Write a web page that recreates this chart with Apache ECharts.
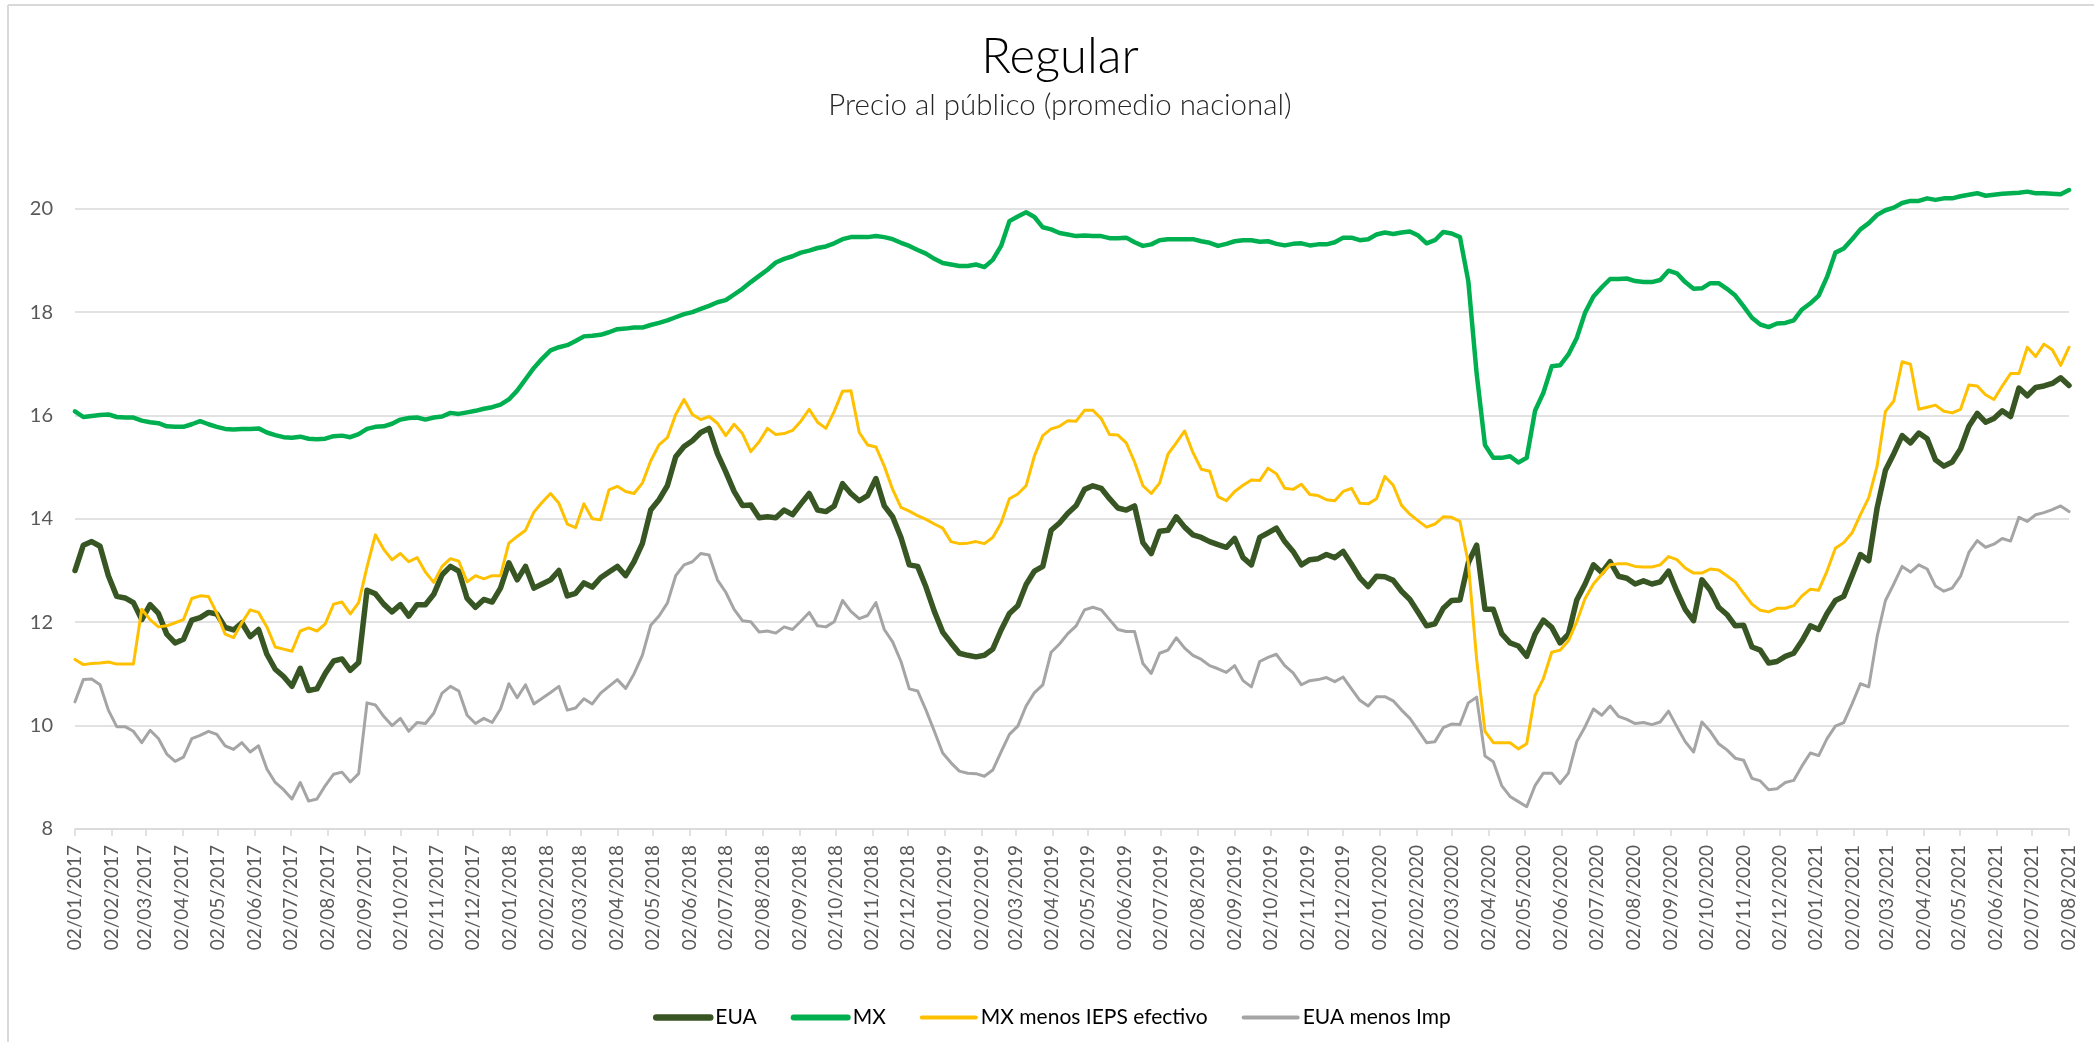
<!DOCTYPE html>
<html>
<head>
<meta charset="utf-8">
<script src="https://cdn.jsdelivr.net/npm/echarts@6/dist/echarts.min.js"></script>
<style>
  html, body { margin: 0; padding: 0; background: #fff; }
  #chart { width: 2094px; height: 1042px; }
</style>
</head>
<body>
<div id="chart"></div>
<script>
// semanas (lunes) desde 02/01/2017 hasta 02/08/2021
const startDate = [2017, 0, 2];
const nWeeks = 240;

// precios semanales
const eua = [
  13.00,13.49,13.56,13.47,12.90,12.50,12.47,12.38,12.05,12.34,12.17,11.77,11.60,11.67,12.04,12.09,12.19,12.16,11.90,11.85,11.99,11.72,11.86,11.38,11.09,10.95,10.76,11.11,10.68,10.71,11.01,11.25,11.29,11.07,11.22,12.62,12.55,12.35,12.20,12.34,12.12,12.34,
  12.34,12.54,12.92,13.08,12.99,12.46,12.29,12.44,12.39,12.66,13.15,12.82,13.08,12.66,12.74,12.82,13.00,12.51,12.56,12.76,12.68,12.86,12.97,13.08,12.90,13.17,13.52,14.17,14.37,14.64,15.20,15.40,15.51,15.67,15.75,15.26,14.91,14.53,14.26,14.27,14.02,
  14.04,14.02,14.17,14.08,14.29,14.49,14.17,14.14,14.25,14.68,14.49,14.35,14.45,14.78,14.25,14.04,13.64,13.11,13.08,12.68,12.21,11.81,11.60,11.40,11.36,11.33,11.36,11.48,11.85,12.17,12.32,12.73,12.99,13.08,13.78,13.92,14.11,14.26,14.57,14.64,14.59,14.39,
  14.21,14.17,14.25,13.54,13.33,13.76,13.78,14.04,13.84,13.69,13.64,13.56,13.50,13.45,13.62,13.25,13.11,13.64,13.73,13.82,13.56,13.37,13.11,13.21,13.23,13.31,13.25,13.37,13.12,12.86,12.69,12.89,12.88,12.81,12.60,12.44,12.19,11.93,11.97,12.27,12.42,12.43,
  13.15,13.49,12.25,12.25,11.78,11.60,11.54,11.34,11.77,12.04,11.90,11.60,11.77,12.43,12.74,13.11,12.96,13.17,12.89,12.85,12.74,12.80,12.74,12.78,12.99,12.60,12.25,12.03,12.82,12.62,12.29,12.15,
  11.93,11.94,11.52,11.46,11.21,11.24,11.34,11.40,11.64,11.93,11.86,12.17,12.42,12.50,12.90,13.31,13.19,14.21,14.94,15.26,15.61,15.47,15.66,15.55,15.14,15.02,15.10,15.35,15.79,16.04,15.87,15.94,16.09,15.98,16.53,16.38,16.54,16.57,16.62,16.73,16.58
];
const mx = [
  16.08,15.97,15.99,16.01,16.02,15.97,15.96,15.96,15.90,15.87,15.85,15.79,15.78,15.78,15.83,15.89,15.83,15.78,15.74,15.73,15.74,15.74,15.75,15.67,15.62,15.58,15.57,15.59,15.55,15.54,15.55,15.60,15.61,15.58,15.64,15.74,15.78,15.79,15.84,15.92,15.95,15.96,
  15.92,15.96,15.98,16.05,16.03,16.06,16.09,16.13,16.16,16.21,16.31,16.48,16.70,16.92,17.10,17.26,17.32,17.36,17.44,17.53,17.54,17.56,17.61,17.67,17.68,17.70,17.70,17.75,17.79,17.84,17.90,17.96,18.00,18.06,18.12,18.19,18.23,18.34,18.45,18.58,18.70,
  18.82,18.96,19.03,19.08,19.15,19.19,19.24,19.27,19.33,19.41,19.45,19.45,19.45,19.47,19.45,19.41,19.34,19.28,19.20,19.13,19.03,18.95,18.92,18.89,18.89,18.92,18.87,19.01,19.28,19.76,19.85,19.93,19.84,19.64,19.60,19.53,19.50,19.47,19.48,19.47,19.47,19.43,
  19.43,19.44,19.35,19.28,19.31,19.39,19.41,19.41,19.41,19.41,19.37,19.34,19.28,19.32,19.37,19.39,19.39,19.36,19.37,19.32,19.29,19.32,19.33,19.29,19.31,19.31,19.35,19.44,19.44,19.39,19.41,19.50,19.54,19.51,19.54,19.56,19.48,19.33,19.39,19.55,19.52,19.45,
  18.60,16.81,15.43,15.18,15.18,15.21,15.09,15.18,16.09,16.44,16.95,16.97,17.18,17.50,17.99,18.30,18.48,18.64,18.64,18.65,18.60,18.58,18.58,18.62,18.80,18.75,18.58,18.45,18.46,18.56,18.56,18.45,
  18.32,18.11,17.89,17.76,17.71,17.78,17.79,17.84,18.05,18.17,18.32,18.68,19.15,19.23,19.41,19.60,19.72,19.88,19.97,20.02,20.11,20.15,20.15,20.20,20.17,20.20,20.20,20.24,20.27,20.30,20.25,20.27,20.29,20.30,20.31,20.33,20.30,20.30,20.29,20.28,20.36
];
const mxSinIeps = [
  11.28,11.18,11.20,11.21,11.23,11.19,11.19,11.19,12.25,12.05,11.91,11.93,11.99,12.05,12.46,12.51,12.50,12.17,11.77,11.70,11.99,12.24,12.19,11.91,11.52,11.48,11.44,11.83,11.89,11.83,11.97,12.35,12.39,12.16,12.38,13.07,13.69,13.41,13.21,13.33,13.17,13.25,
  12.97,12.77,13.08,13.23,13.18,12.78,12.90,12.84,12.90,12.90,13.53,13.66,13.78,14.13,14.32,14.49,14.30,13.90,13.83,14.29,14.00,13.98,14.56,14.63,14.53,14.49,14.69,15.12,15.43,15.57,16.02,16.31,16.02,15.92,15.98,15.85,15.61,15.83,15.65,15.30,15.49,
  15.75,15.63,15.65,15.71,15.89,16.12,15.87,15.75,16.08,16.47,16.48,15.67,15.43,15.39,15.02,14.57,14.22,14.15,14.06,13.99,13.90,13.82,13.56,13.52,13.53,13.56,13.52,13.64,13.92,14.39,14.48,14.64,15.22,15.61,15.74,15.79,15.90,15.89,16.10,16.10,15.94,15.63,
  15.62,15.47,15.10,14.64,14.49,14.69,15.25,15.47,15.70,15.28,14.96,14.92,14.43,14.35,14.53,14.65,14.75,14.74,14.98,14.87,14.59,14.57,14.67,14.47,14.45,14.37,14.35,14.53,14.59,14.30,14.29,14.39,14.82,14.65,14.26,14.09,13.96,13.84,13.90,14.04,14.03,13.95,
  13.15,11.28,9.89,9.67,9.67,9.67,9.55,9.65,10.59,10.91,11.42,11.46,11.64,12.01,12.46,12.74,12.93,13.11,13.13,13.13,13.08,13.07,13.07,13.11,13.27,13.21,13.05,12.95,12.95,13.03,13.01,12.90,
  12.78,12.56,12.35,12.23,12.20,12.27,12.27,12.32,12.51,12.64,12.62,12.99,13.43,13.54,13.73,14.08,14.41,15.02,16.08,16.28,17.04,16.99,16.12,16.16,16.20,16.08,16.05,16.12,16.59,16.57,16.40,16.31,16.57,16.81,16.81,17.32,17.14,17.38,17.27,16.97,17.32
];
const euaSinImp = [
  10.46,10.89,10.90,10.79,10.30,9.98,9.98,9.89,9.67,9.91,9.75,9.45,9.31,9.39,9.75,9.81,9.89,9.83,9.61,9.54,9.67,9.49,9.61,9.16,8.90,8.76,8.58,8.90,8.54,8.58,8.84,9.06,9.10,8.91,9.07,10.44,10.40,10.18,10.00,10.14,9.89,10.06,
  10.04,10.24,10.63,10.76,10.67,10.20,10.04,10.14,10.06,10.32,10.81,10.54,10.79,10.42,10.53,10.64,10.76,10.30,10.34,10.52,10.42,10.63,10.76,10.89,10.72,11.00,11.36,11.94,12.12,12.37,12.90,13.11,13.17,13.33,13.30,12.82,12.58,12.25,12.03,12.01,11.81,
  11.83,11.79,11.91,11.86,12.02,12.19,11.93,11.91,12.01,12.42,12.21,12.07,12.13,12.38,11.86,11.62,11.24,10.71,10.67,10.30,9.89,9.47,9.28,9.12,9.08,9.07,9.02,9.14,9.49,9.83,9.99,10.38,10.64,10.79,11.42,11.58,11.78,11.93,12.24,12.29,12.24,12.05,
  11.86,11.82,11.82,11.20,11.01,11.40,11.46,11.70,11.50,11.36,11.28,11.16,11.10,11.03,11.16,10.87,10.75,11.24,11.32,11.38,11.16,11.02,10.79,10.87,10.89,10.93,10.85,10.94,10.71,10.49,10.38,10.56,10.56,10.48,10.30,10.14,9.91,9.67,9.69,9.96,10.03,10.02,
  10.44,10.55,9.41,9.30,8.84,8.63,8.53,8.43,8.84,9.08,9.08,8.88,9.08,9.69,9.98,10.32,10.20,10.38,10.18,10.12,10.04,10.06,10.02,10.07,10.28,9.98,9.69,9.49,10.07,9.89,9.65,9.53,
  9.37,9.33,8.98,8.93,8.76,8.78,8.90,8.94,9.22,9.47,9.42,9.75,9.99,10.06,10.42,10.81,10.75,11.72,12.42,12.74,13.08,12.97,13.11,13.03,12.70,12.60,12.66,12.89,13.35,13.58,13.45,13.51,13.62,13.57,14.03,13.95,14.08,14.12,14.18,14.25,14.14
];

const seriesNames = ['EUA', 'MX', 'MX menos IEPS efectivo', 'EUA menos Imp'];
const seriesColors = ['#375623', '#00B050', '#FFC000', '#A5A5A5'];
const seriesWidths = [5.5, 4.5, 3, 3];
const legendWidths = [6.5, 6, 4, 4];

// fechas de cada semana y etiquetas mensuales (dia 2 de cada mes)
const weeks = [];
for (let i = 0; i < nWeeks; i++) {
  weeks.push(new Date(startDate[0], startDate[1], startDate[2] + 7 * i).getTime());
}
const monthTicks = [];
for (let m = 0; m <= 55; m++) {
  monthTicks.push(new Date(2017, m, 2).getTime());
}

function pad(n) { return n < 10 ? '0' + n : '' + n; }
function fmtDate(v) {
  const d = new Date(v);
  return pad(d.getDate()) + '/' + pad(d.getMonth() + 1) + '/' + d.getFullYear();
}

const FONT = 'Lato';
const values = [eua, mx, mxSinIeps, euaSinImp];

const chart = echarts.init(document.getElementById('chart'));
chart.setOption({
  backgroundColor: '#fff',
  animation: false,
  title: {
    text: 'Regular',
    subtext: 'Precio al público (promedio nacional)',
    left: 1055,
    textAlign: 'center',
    top: 28,
    itemGap: 8,
    textStyle: { fontFamily: FONT, fontWeight: 300, fontSize: 49, color: '#000' },
    subtextStyle: { fontFamily: FONT, fontWeight: 300, fontSize: 29.5, color: '#262626' }
  },
  legend: {
    data: seriesNames.map((name, k) => ({
      name: name,
      itemStyle: { opacity: 0 },
      lineStyle: { width: legendWidths[k], cap: 'round' }
    })),
    left: 648,
    top: 1002,
    itemWidth: 54,
    itemHeight: 14,
    itemGap: 34,
    textStyle: { fontFamily: FONT, fontSize: 21, color: '#000' }
  },
  grid: { left: 75, right: 25, top: 157, bottom: 213 },
  xAxis: {
    // eje de fechas como valores (ms) para poner marcas el dia 2 de cada mes
    type: 'value',
    min: weeks[0],
    max: weeks[nWeeks - 1],
    axisLine: { lineStyle: { color: '#d9d9d9', width: 1.5 } },
    axisTick: {
      show: true,
      length: 7,
      customValues: monthTicks,
      lineStyle: { color: '#d9d9d9', width: 1.5 }
    },
    axisLabel: {
      customValues: monthTicks,
      rotate: 90,
      margin: 16,
      formatter: fmtDate,
      fontFamily: FONT,
      fontSize: 19,
      color: '#595959'
    },
    splitLine: { show: false }
  },
  yAxis: {
    type: 'value',
    min: 8,
    max: 21,
    interval: 2,
    axisLine: { show: false },
    axisTick: { show: false },
    axisLabel: {
      showMaxLabel: false,
      margin: 22,
      fontFamily: FONT,
      fontSize: 20,
      color: '#595959'
    },
    splitLine: { showMaxLine: false, lineStyle: { color: '#d9d9d9', width: 1.5 } }
  },
  graphic: [
    { type: 'line', shape: { x1: 8, y1: 5, x2: 2094, y2: 5 }, style: { stroke: '#d9d9d9', lineWidth: 2 } },
    { type: 'line', shape: { x1: 8, y1: 5, x2: 8, y2: 1042 }, style: { stroke: '#d9d9d9', lineWidth: 2 } }
  ],
  series: seriesNames.map((name, k) => ({
    name: name,
    type: 'line',
    symbol: 'none',
    color: seriesColors[k],
    lineStyle: { width: seriesWidths[k], color: seriesColors[k], cap: 'round', join: 'round' },
    data: values[k].map((v, i) => [weeks[i], v])
  }))
});
</script>
</body>
</html>
